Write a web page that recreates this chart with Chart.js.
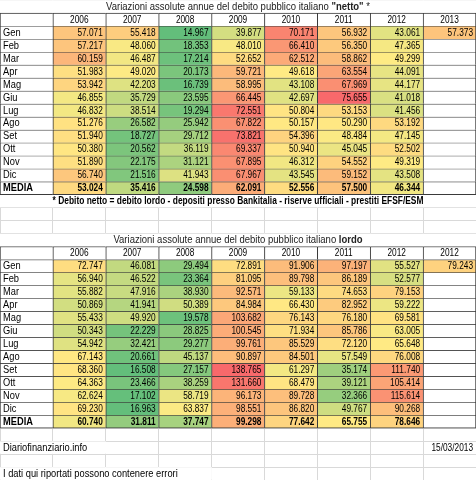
<!DOCTYPE html>
<html>
<head>
<meta charset="utf-8">
<script src="https://cdn.jsdelivr.net/npm/chart.js@4.4.1/dist/chart.umd.min.js"></script>
<style>
  html, body { margin: 0; padding: 0; background: #fff; }
  #wrap { width: 476px; height: 480px; position: relative; }
</style>
</head>
<body>
<div id="wrap"><canvas id="tabella"></canvas></div>
<script>
// --- Dati (variazioni assolute annue, milioni di euro) ---
const mesi = ['Gen', 'Feb', 'Mar', 'Apr', 'Mag', 'Giu', 'Lug', 'Ago', 'Set', 'Ott', 'Nov', 'Dic'];
const anniNetto = ['2006', '2007', '2008', '2009', '2010', '2011', '2012', '2013'];
const anniLordo = ['2006', '2007', '2008', '2009', '2010', '2011', '2012', '2012']; // come nell'originale

// Debito netto
const netto2006 = [57071, 57217, 60159, 51983, 53942, 46855, 46832, 51276, 51940, 50380, 51890, 56740];
const netto2007 = [55418, 48060, 46487, 49020, 42203, 35729, 38514, 26582, 18727, 20562, 22175, 21516];
const netto2008 = [14967, 18353, 17214, 20173, 16739, 23595, 19294, 25942, 29712, 36119, 31121, 41943];
const netto2009 = [39877, 48010, 52652, 59721, 58995, 66445, 72551, 67822, 73821, 69337, 67895, 67967];
const netto2010 = [70171, 66410, 62512, 49618, 43108, 42697, 50804, 50157, 54396, 50940, 46312, 43545];
const netto2011 = [56932, 56350, 58862, 63554, 67969, 75655, 53153, 50290, 48484, 45045, 54552, 59152];
const netto2012 = [43061, 47365, 49299, 44091, 44177, 41018, 41456, 53192, 47145, 52502, 49319, 43508];
const netto2013 = [57373];
const nettoMedia = [53024, 35416, 24598, 62091, 52556, 57500, 46344];

// Debito lordo
const lordo2006 = [72747, 56940, 55882, 50869, 55433, 50343, 54942, 67143, 68360, 64363, 62624, 69230];
const lordo2007 = [46081, 46522, 47916, 41941, 49920, 22229, 32421, 20661, 16508, 23466, 17102, 16963];
const lordo2008 = [29494, 23364, 38930, 50389, 19578, 28825, 29277, 45137, 27157, 38259, 58719, 63837];
const lordo2009 = [72891, 81095, 92571, 84984, 103682, 100545, 99761, 90897, 138765, 131660, 96173, 98551];
const lordo2010 = [91906, 89798, 59133, 66430, 76143, 71934, 85529, 84501, 61297, 68479, 89728, 86820];
const lordo2011 = [97197, 86189, 74653, 82952, 76180, 85786, 72120, 57549, 35174, 39121, 32366, 49767];
const lordo2012 = [55527, 52577, 79153, 59222, 69581, 63005, 65648, 76008, 111740, 105414, 115614, 90268];
const lordo2013 = [79243];
const lordoMedia = [60740, 31811, 37747, 99298, 77642, 65755, 78646];

// --- Impostazioni foglio ---
const RIGHE = 37;
const NCOL = 9;
const FONT = '"Liberation Sans", Arial, sans-serif';
const BORDO = '#3a3a3a';
const GRIGLIA = '#d9d9d9';
const SX_NUMERI = 0.83;  // cifre più strette (tipo Calibri)
const SX_TESTO = 0.93;

const VERDE = [99, 190, 123], GIALLO = [255, 235, 132], ROSSO = [248, 105, 107];

function formatta(v) {
    return String(v).replace(/\B(?=(\d{3})+(?!\d))/g, '.');
}

// Scala a tre colori come in Excel (min / percentile 50 / max)
function scala(valori) {
    const s = [...valori].sort((a, b) => a - b);
    const pos = (s.length - 1) * 0.5;
    const lo = Math.floor(pos), hi = Math.ceil(pos);
    return { min: s[0], mid: s[lo] + (s[hi] - s[lo]) * (pos - lo), max: s[s.length - 1] };
}

function colore(v, sc) {
    let a, b, t;
    if (v <= sc.mid) { a = VERDE; b = GIALLO; t = (v - sc.min) / (sc.mid - sc.min); }
    else { a = GIALLO; b = ROSSO; t = (v - sc.mid) / (sc.max - sc.mid); }
    const c = a.map((x, i) => Math.round(x + (b[i] - x) * t));
    return `rgb(${c[0]}, ${c[1]}, ${c[2]})`;
}

const datasets = [];
const righeUnite = []; // righe con testo su tutta la larghezza

function riga(r, opz) {
    const cols = opz.cols || [...Array(NCOL).keys()];
    const inset = opz.copri ? 0.05 : 0;
    const data = Array(NCOL).fill(null);
    cols.forEach(c => { data[c] = [r + inset, r + 1 - inset]; });
    datasets.push({
        data: data,
        backgroundColor: opz.colori || '#ffffff',
        bordi: !!opz.bordi,
        ultima: !!opz.ultima,
        testi: opz.testi || [],
        allinea: opz.allinea || [],
        grassetto: !!opz.grassetto
    });
}

function tabella(rigaHeader, anni, colonne, ultimo, media) {
    const sc = scala(colonne.flat().concat(ultimo, media));
    const allinea = ['left'].concat(Array(8).fill('right'));

    riga(rigaHeader, {
        bordi: true,
        testi: [''].concat(anni),
        allinea: Array(NCOL).fill('center')
    });

    mesi.forEach((m, i) => {
        const valori = colonne.map(col => col[i]);
        if (ultimo[i] !== undefined) valori.push(ultimo[i]);
        riga(rigaHeader + 1 + i, {
            bordi: true,
            colori: ['#ffffff'].concat(colonne.map(col => colore(col[i], sc)),
                ultimo[i] !== undefined ? colore(ultimo[i], sc) : '#ffffff'),
            testi: [m].concat(valori.map(formatta)),
            allinea: allinea
        });
    });

    riga(rigaHeader + 13, {
        bordi: true,
        ultima: true,
        grassetto: true,
        colori: ['#ffffff'].concat(media.map(v => colore(v, sc)), '#ffffff'),
        testi: ['MEDIA'].concat(media.map(formatta)),
        allinea: allinea
    });
}

// Tabella debito netto
riga(0, { copri: true });
righeUnite.push({ riga: 0, colore: '#222', sx: 0.95, parti: [
    { t: 'Variazioni assolute annue del debito pubblico italiano ', b: false },
    { t: '"netto"', b: true },
    { t: ' *', b: false }
] });
tabella(1, anniNetto,
    [netto2006, netto2007, netto2008, netto2009, netto2010, netto2011, netto2012],
    netto2013, nettoMedia);

riga(15, { copri: true });
righeUnite.push({ riga: 15, colore: '#000', sx: 0.84, parti: [
    { t: '* Debito netto = debito lordo - depositi presso Bankitalia - riserve ufficiali - prestiti EFSF/ESM', b: true }
] });

// Tabella debito lordo
riga(18, { copri: true });
righeUnite.push({ riga: 18, colore: '#222', sx: 0.95, parti: [
    { t: 'Variazioni assolute annue del debito pubblico italiano ', b: false },
    { t: 'lordo', b: true }
] });
tabella(19, anniLordo,
    [lordo2006, lordo2007, lordo2008, lordo2009, lordo2010, lordo2011, lordo2012],
    lordo2013, lordoMedia);

// Piede
riga(34, { copri: true, cols: [0, 1], testi: ['Diariofinanziario.info'], allinea: ['left'] });
riga(34, { copri: true, cols: [8], colori: 'rgba(0,0,0,0)', testi: [, , , , , , , , '15/03/2013'], allinea: [, , , , , , , , 'right'] });
riga(36, { copri: true, cols: [0, 1, 2, 3], testi: ['I dati qui riportati possono contenere errori'], allinea: ['left'] });

// testo schiacciato in orizzontale
function scrivi(ctx, t, x, y, sx) {
    ctx.save();
    ctx.translate(x, y);
    ctx.scale(sx, 1);
    ctx.fillText(t, 0, 0);
    ctx.restore();
}

// --- Plugin per i testi delle celle ---
const testoCelle = {
    id: 'testoCelle',
    afterDatasetsDraw(chart) {
        const ctx = chart.ctx;
        ctx.save();
        ctx.textBaseline = 'middle';
        chart.data.datasets.forEach((ds, i) => {
            const meta = chart.getDatasetMeta(i);
            ctx.font = (ds.grassetto ? 'bold ' : '') + '10px ' + FONT;
            ctx.fillStyle = '#000';
            meta.data.forEach((el, j) => {
                const t = ds.testi[j];
                if (!t || ds.data[j] === null) return;
                const p = el.getProps(['x', 'y', 'base', 'width'], true);
                const sx = p.x - p.width / 2, dx = p.x + p.width / 2;
                const y = (p.y + p.base) / 2 + 0.5;
                const al = ds.allinea[j] || 'left';
                ctx.textAlign = al;
                const x = al === 'left' ? sx + 3 : al === 'right' ? dx - 3 : p.x;
                scrivi(ctx, t, x, y, /^[\d.\/]+$/.test(t) ? SX_NUMERI : SX_TESTO);
            });
        });

        const area = chart.chartArea;
        const yScale = chart.scales.y;
        righeUnite.forEach(u => {
            const y = yScale.getPixelForValue(u.riga + 0.5) + 0.5;
            const fonts = u.parti.map(p => (p.b ? 'bold ' : '') + '10px ' + FONT);
            let tot = 0;
            u.parti.forEach((p, k) => { ctx.font = fonts[k]; tot += ctx.measureText(p.t).width * u.sx; });
            let x = (area.left + area.right) / 2 - tot / 2;
            ctx.textAlign = 'left';
            ctx.fillStyle = u.colore;
            u.parti.forEach((p, k) => {
                ctx.font = fonts[k];
                scrivi(ctx, p.t, x, y, u.sx);
                x += ctx.measureText(p.t).width * u.sx;
            });
        });
        ctx.restore();
    }
};

new Chart(document.getElementById('tabella'), {
    type: 'bar',
    data: {
        labels: [...Array(NCOL).keys()].map(String),
        datasets: datasets
    },
    options: {
        responsive: true,
        maintainAspectRatio: false,
        animation: false,
        layout: { padding: 0 },
        datasets: {
            bar: {
                barPercentage: 1,
                categoryPercentage: 1,
                borderSkipped: false,
                borderColor: BORDO,
                borderWidth: (c) => {
                    const ds = c.dataset;
                    if (!ds || !ds.bordi) return 0;
                    return { top: 1, left: 1, right: c.dataIndex === NCOL - 1 ? 1 : 0, bottom: ds.ultima ? 1 : 0 };
                }
            }
        },
        plugins: {
            legend: { display: false },
            tooltip: { enabled: false }
        },
        scales: {
            x: {
                stacked: true,
                ticks: { display: false },
                grid: { color: GRIGLIA, offset: true, drawTicks: false },
                border: { display: false },
                afterFit: (s) => { s.height = 0; }
            },
            y: {
                stacked: false,
                min: 0,
                max: RIGHE,
                reverse: true,
                ticks: { display: false },
                grid: { color: GRIGLIA, drawTicks: false },
                border: { display: false },
                afterBuildTicks: (s) => { s.ticks = [...Array(RIGHE + 1).keys()].map(v => ({ value: v })); },
                afterFit: (s) => { s.width = 0; }
            }
        }
    },
    plugins: [testoCelle]
});
</script>
</body>
</html>
